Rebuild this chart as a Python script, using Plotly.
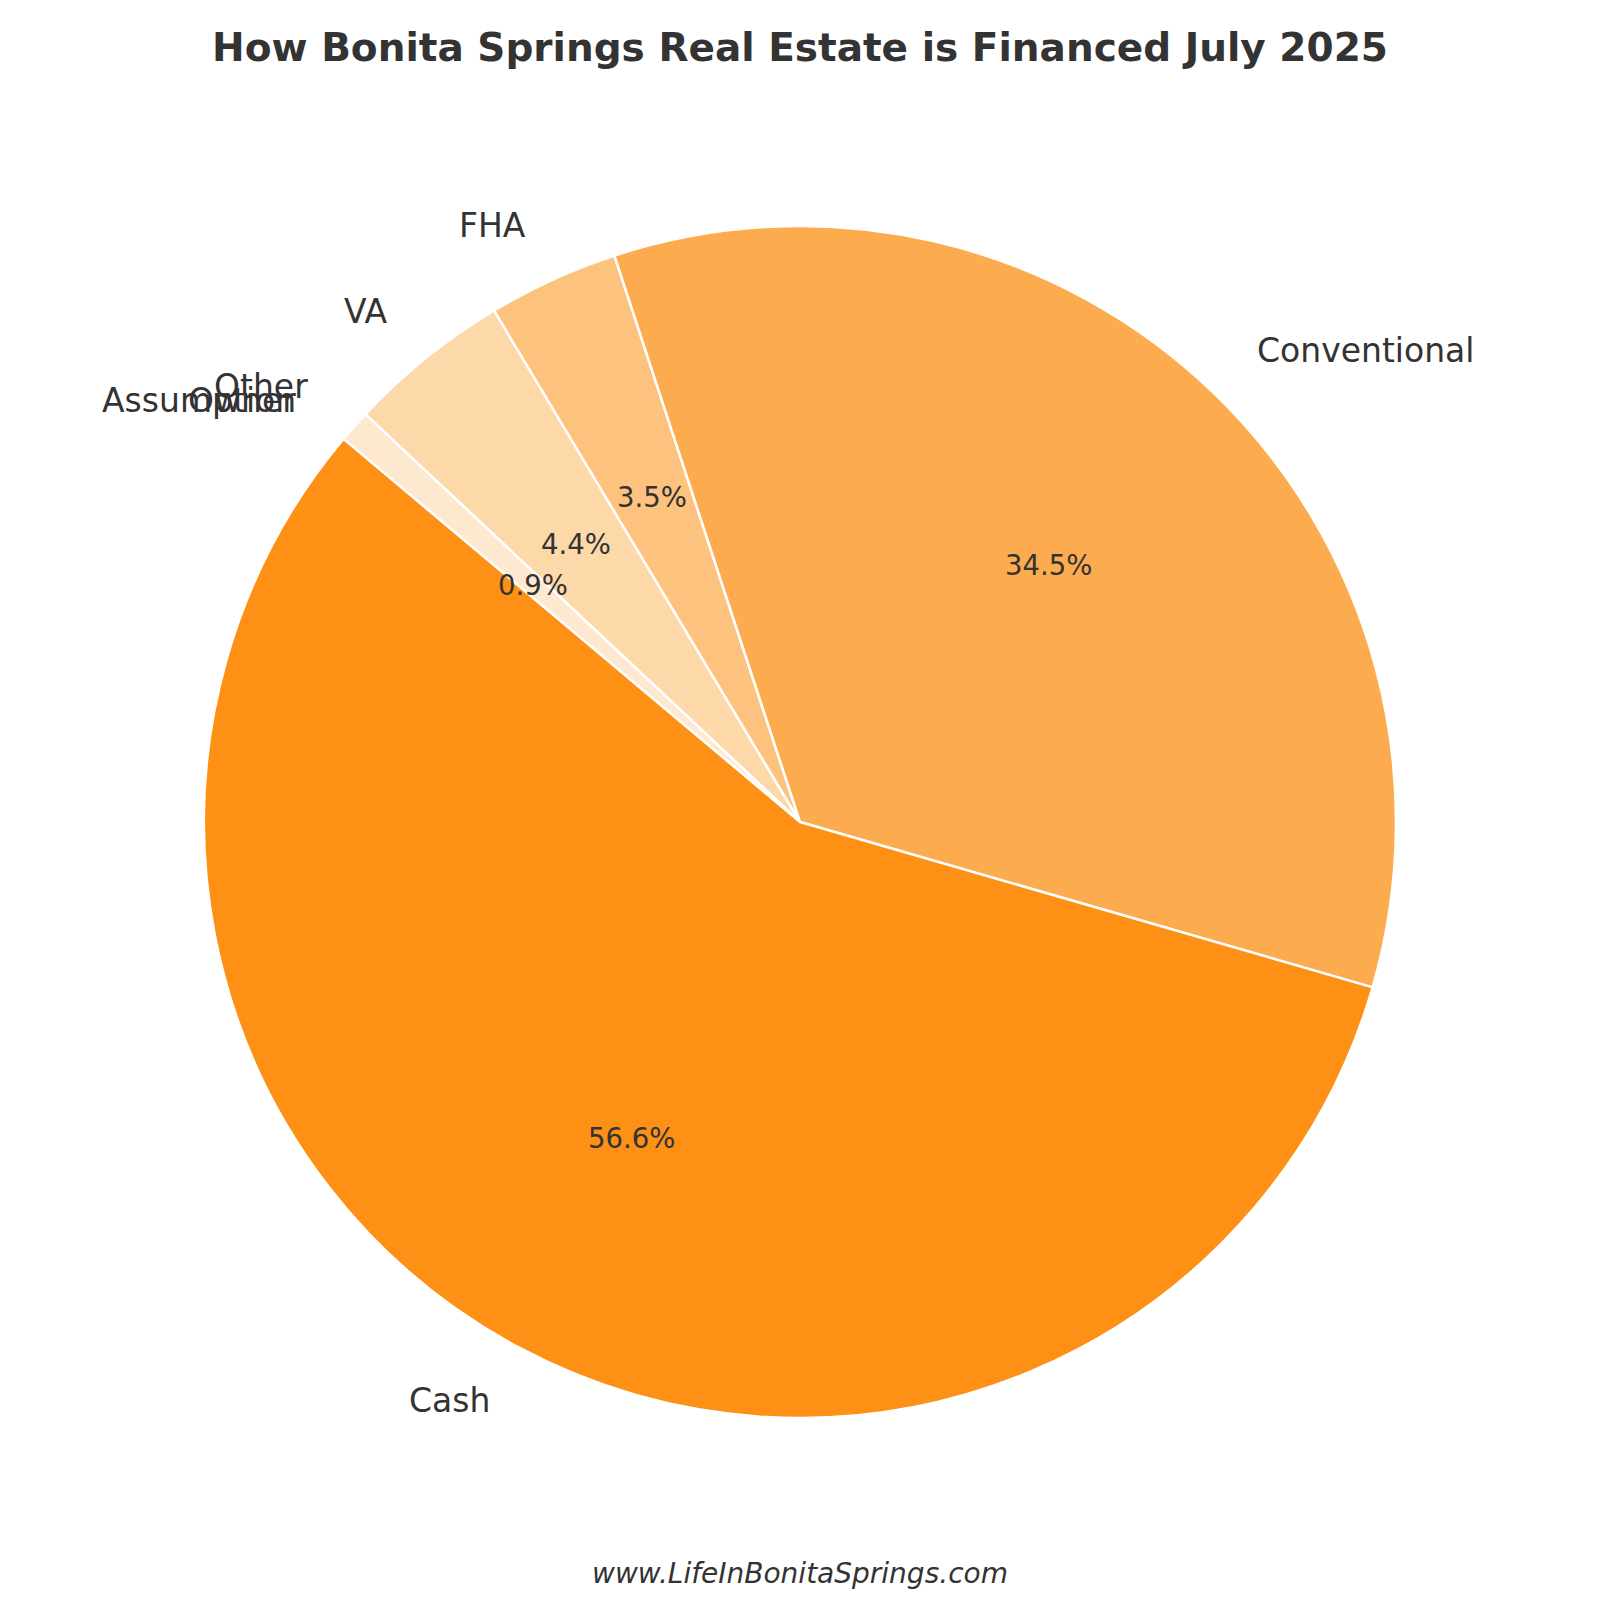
import math
import plotly.graph_objects as go

# ---- data ----
categories = ["Cash", "Conventional", "FHA", "VA", "Other", "Owner", "Assumption"]
counts = [64, 39, 4, 5, 1, 0, 0]
colors = ["#FD9015", "#FDAB4F", "#FDC27D", "#FDD8A9", "#FEE8CF", "#FEF0E0", "#FFF5EB"]
title_text = "How Bonita Springs Real Estate is Financed July 2025"
footer_text = "www.LifeInBonitaSprings.com"

# ---- layout geometry (pixels on the 1600x1600 figure; page adds 8px body margin) ----
W = H = 1600
OFF = 8.0
cx, cy, R = 800.0 - OFF, 822.0 - OFF, 596.0
start_angle = 140.0  # degrees, counterclockwise from 3 o'clock
label_dist = 1.1
pct_dist = 0.6
txt_color = "#333333"
font_family = "DejaVu Sans"

total = sum(counts)

fig = go.Figure()
fig.add_trace(go.Pie(
    labels=categories[::-1],
    values=counts[::-1],
    marker=dict(colors=colors[::-1], line=dict(color="white", width=2.5)),
    sort=False,
    direction="clockwise",
    rotation=-(start_angle - 90.0),
    textinfo="none",
    hoverinfo="skip",
    showlegend=False,
    domain=dict(x=[(cx - R) / W, (cx + R) / W],
                y=[1 - (cy + R) / H, 1 - (cy - R) / H]),
))

def to_paper(px, py):
    return px / W, 1 - py / H

annotations = []
cum = 0.0
for name, v in zip(categories, counts):
    frac = v / total
    mid = math.radians(start_angle + 360.0 * (cum + frac / 2.0))
    cum += frac
    lx = cx + R * label_dist * math.cos(mid)
    ly = cy - R * label_dist * math.sin(mid)
    x, y = to_paper(lx, ly)
    annotations.append(dict(
        x=x, y=y, xref="paper", yref="paper", text=name, showarrow=False,
        xanchor="left" if math.cos(mid) > 0 else "right", yanchor="middle",
        font=dict(family=font_family, size=33, color=txt_color),
    ))
    if v > 0:
        pxx = cx + R * pct_dist * math.cos(mid)
        pyy = cy - R * pct_dist * math.sin(mid)
        x, y = to_paper(pxx, pyy)
        annotations.append(dict(
            x=x, y=y, xref="paper", yref="paper", text=f"{100 * frac:.1f}%",
            showarrow=False, xanchor="center", yanchor="middle",
            font=dict(family=font_family, size=27.5, color=txt_color),
        ))

annotations.append(dict(
    x=(800 - OFF) / W, y=1 - (1573 - OFF) / H, xref="paper", yref="paper",
    text=footer_text, showarrow=False, xanchor="center", yanchor="middle",
    font=dict(family=font_family, size=28, color=txt_color, style="italic"),
))

fig.update_layout(
    width=W, height=H,
    margin=dict(l=0, r=0, t=0, b=0),
    paper_bgcolor="white", plot_bgcolor="white",
    title=dict(text=f"<b>{title_text}</b>", x=(800 - OFF) / W, xanchor="center",
               y=1 - (47 - OFF) / H, yanchor="middle",
               font=dict(family=font_family, size=39, color=txt_color)),
    annotations=annotations,
)

fig.write_html("out.html")
